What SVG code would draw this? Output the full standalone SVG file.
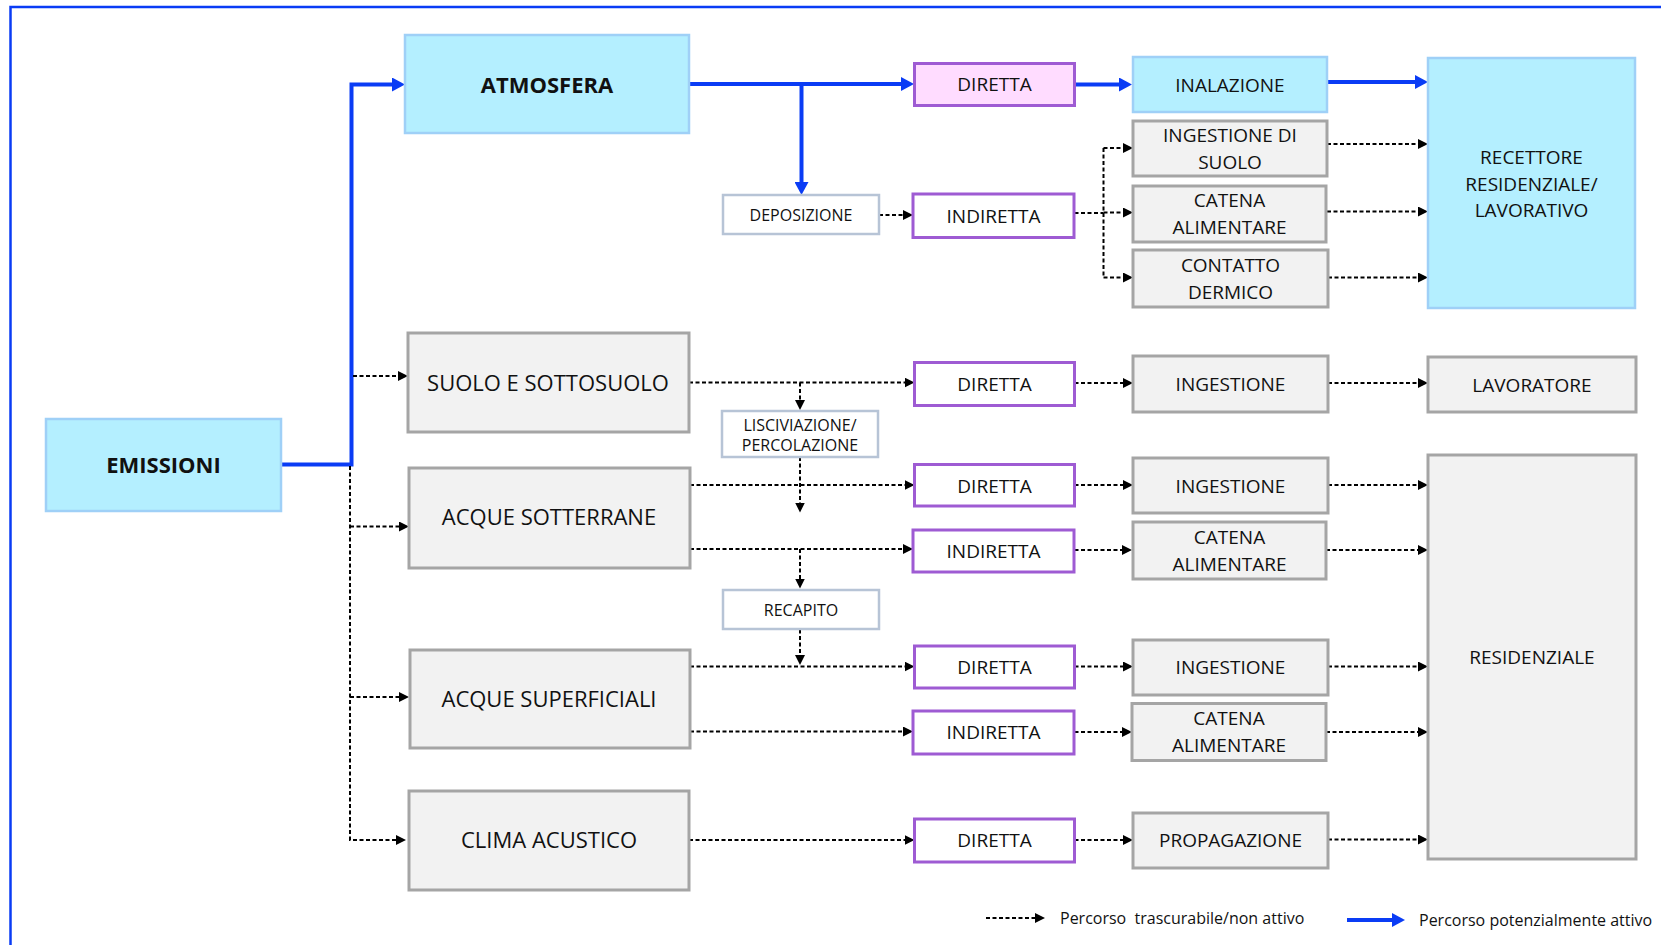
<svg xmlns="http://www.w3.org/2000/svg" width="1661" height="945" viewBox="0 0 1661 945">
<style>
text{font-family:"Open Sans","Noto Sans","Liberation Sans",sans-serif;fill:#111;text-anchor:middle}
.b{font-weight:bold;font-size:22px}
.l{font-size:22px}
.m{font-size:19px}
.s{font-size:16px}
.lg{font-size:16px;text-anchor:start}
.env{fill:#b4efff;stroke:#9fd0f7;stroke-width:2.5}
.gray{fill:#f2f2f2;stroke:#a5a5a5;stroke-width:3}
.path{fill:#fff;stroke:#9e5bd3;stroke-width:3}
.pink{fill:#ffdcff;stroke:#9e5bd3;stroke-width:3}
.proc{fill:#fff;stroke:#b7c4d6;stroke-width:2.5}
.blue{fill:none;stroke:#0a3cf5;stroke-width:4;marker-end:url(#ab)}
.blueL{fill:none;stroke:#0a3cf5;stroke-width:4}
.dash{fill:none;stroke:#000;stroke-width:2;stroke-dasharray:4 2.5;marker-end:url(#ad)}
.dashL{fill:none;stroke:#000;stroke-width:2;stroke-dasharray:4 2.5}
</style>
<defs>
<marker id="ab" markerUnits="userSpaceOnUse" markerWidth="13" markerHeight="14" viewBox="0 0 13 14" refX="5" refY="7" orient="auto"><path d="M0,0 L13,7 L0,14 z" fill="#0a3cf5"/></marker>
<marker id="ad" markerUnits="userSpaceOnUse" markerWidth="10" markerHeight="10" viewBox="0 0 10 10" refX="4" refY="5" orient="auto"><path d="M0,0 L10,5 L0,10 z" fill="#000"/></marker>
</defs>
<rect x="0" y="0" width="1661" height="945" fill="#fff"/>
<rect x="10.5" y="7" width="1700" height="1000" fill="none" stroke="#0a3cf5" stroke-width="2.5"/>

<g id="connectors">
<path class="blue" d="M281,464.5 H351.5 V84.5 H397"/>
<path class="blue" d="M689,84 H906"/>
<path class="blue" d="M801.5,84 V187"/>
<path class="blue" d="M1075,84.5 H1124"/>
<path class="blue" d="M1328,82 H1420"/>

<path class="dash" d="M350,466 V840 H400"/>
<path class="dash" d="M353,376 H402"/>
<path class="dash" d="M350,526.5 H403"/>
<path class="dash" d="M350,697 H403"/>

<path class="dash" d="M879,215 H907"/>
<path class="dashL" d="M1074.5,213 H1103.5"/>
<path class="dashL" d="M1103.5,148 V277.5"/>
<path class="dash" d="M1103.5,148 H1127"/>
<path class="dash" d="M1103.5,212.5 H1127"/>
<path class="dash" d="M1103.5,277.5 H1127"/>
<path class="dash" d="M1327,144 H1422"/>
<path class="dash" d="M1327,211.5 H1422"/>
<path class="dash" d="M1328,277.5 H1422"/>

<path class="dash" d="M689,382.5 H908.5"/>
<path class="dash" d="M800,382.5 V404"/>
<path class="dash" d="M800,457 V506.5"/>
<path class="dash" d="M690,485 H908.5"/>
<path class="dash" d="M690,549 H907"/>
<path class="dash" d="M800,549 V582.5"/>
<path class="dash" d="M800,629.5 V659"/>
<path class="dash" d="M690,666.5 H908.5"/>
<path class="dash" d="M690,731.5 H907"/>
<path class="dash" d="M689,840 H908.5"/>

<path class="dash" d="M1074.5,383 H1127"/>
<path class="dash" d="M1074.5,485 H1127"/>
<path class="dash" d="M1074.5,550 H1126"/>
<path class="dash" d="M1074.5,666.5 H1127"/>
<path class="dash" d="M1074.5,732 H1126"/>
<path class="dash" d="M1074.5,840 H1127"/>

<path class="dash" d="M1328,383 H1422"/>
<path class="dash" d="M1328,485 H1422"/>
<path class="dash" d="M1326,550 H1422"/>
<path class="dash" d="M1328,666.5 H1422"/>
<path class="dash" d="M1326,732 H1422"/>
<path class="dash" d="M1328,839.5 H1422"/>
</g>

<g id="emissioni"><rect class="env" x="46" y="419" width="235" height="92"/><text class="b" x="163.5" y="473">EMISSIONI</text></g>
<g id="atmosfera"><rect class="env" x="405" y="35" width="284" height="98"/><text class="b" x="547" y="93">ATMOSFERA</text></g>
<g id="suolo"><rect class="gray" x="408" y="333" width="281" height="99"/><text class="l" x="548" y="391">SUOLO E SOTTOSUOLO</text></g>
<g id="acque-sotterrane"><rect class="gray" x="409" y="468" width="281" height="100"/><text class="l" x="549" y="525">ACQUE SOTTERRANE</text></g>
<g id="acque-superficiali"><rect class="gray" x="410" y="650" width="280" height="98"/><text class="l" x="549" y="707">ACQUE SUPERFICIALI</text></g>
<g id="clima-acustico"><rect class="gray" x="409" y="791" width="280" height="99"/><text class="l" x="549" y="848">CLIMA ACUSTICO</text></g>

<g id="deposizione"><rect class="proc" x="723" y="195" width="156" height="39"/><text class="s" x="801" y="221">DEPOSIZIONE</text></g>
<g id="lisciviazione"><rect class="proc" x="722" y="411" width="156" height="46"/><text class="s" x="800" y="430.5">LISCIVIAZIONE/</text><text class="s" x="800" y="451">PERCOLAZIONE</text></g>
<g id="recapito"><rect class="proc" x="723" y="590" width="156" height="39"/><text class="s" x="801" y="616">RECAPITO</text></g>

<g id="diretta-1"><rect class="pink" x="914.5" y="63.5" width="160" height="42"/><text class="m" x="994.5" y="91">DIRETTA</text></g>
<g id="indiretta-1"><rect class="path" x="913" y="194" width="161" height="43.5"/><text class="m" x="993.5" y="223">INDIRETTA</text></g>
<g id="diretta-2"><rect class="path" x="914.5" y="362.5" width="160" height="43"/><text class="m" x="994.5" y="391">DIRETTA</text></g>
<g id="diretta-3"><rect class="path" x="914.5" y="464.5" width="160" height="41.5"/><text class="m" x="994.5" y="493">DIRETTA</text></g>
<g id="indiretta-2"><rect class="path" x="913" y="530" width="161" height="42"/><text class="m" x="993.5" y="557.5">INDIRETTA</text></g>
<g id="diretta-4"><rect class="path" x="914.5" y="646" width="160" height="42"/><text class="m" x="994.5" y="673.5">DIRETTA</text></g>
<g id="indiretta-3"><rect class="path" x="913" y="711" width="161" height="43"/><text class="m" x="993.5" y="738.5">INDIRETTA</text></g>
<g id="diretta-5"><rect class="path" x="914.5" y="819" width="160" height="43"/><text class="m" x="994.5" y="847">DIRETTA</text></g>

<g id="inalazione"><rect class="env" x="1133" y="57" width="194" height="55"/><text class="m" x="1230" y="92">INALAZIONE</text></g>
<g id="ingestione-suolo"><rect class="gray" x="1133" y="121" width="194" height="55"/><text class="m" x="1230" y="142">INGESTIONE DI</text><text class="m" x="1230" y="168.5">SUOLO</text></g>
<g id="catena-1"><rect class="gray" x="1133" y="186" width="193" height="56"/><text class="m" x="1229.5" y="207">CATENA</text><text class="m" x="1229.5" y="234">ALIMENTARE</text></g>
<g id="contatto"><rect class="gray" x="1133" y="250" width="195" height="57"/><text class="m" x="1230.5" y="272">CONTATTO</text><text class="m" x="1230.5" y="298.5">DERMICO</text></g>
<g id="ingestione-1"><rect class="gray" x="1133" y="356" width="195" height="56"/><text class="m" x="1230.5" y="391">INGESTIONE</text></g>
<g id="ingestione-2"><rect class="gray" x="1133" y="458" width="195" height="55"/><text class="m" x="1230.5" y="493">INGESTIONE</text></g>
<g id="catena-2"><rect class="gray" x="1133" y="522" width="193" height="57"/><text class="m" x="1229.5" y="543.5">CATENA</text><text class="m" x="1229.5" y="570.5">ALIMENTARE</text></g>
<g id="ingestione-3"><rect class="gray" x="1133" y="640" width="195" height="55"/><text class="m" x="1230.5" y="674">INGESTIONE</text></g>
<g id="catena-3"><rect class="gray" x="1132" y="703.5" width="194" height="57"/><text class="m" x="1229" y="725">CATENA</text><text class="m" x="1229" y="752">ALIMENTARE</text></g>
<g id="propagazione"><rect class="gray" x="1133" y="813" width="195" height="55"/><text class="m" x="1230.5" y="847">PROPAGAZIONE</text></g>

<g id="recettore"><rect class="env" x="1428" y="58" width="207" height="250"/><text class="m" x="1531.5" y="163.5">RECETTORE</text><text class="m" x="1531.5" y="190.5">RESIDENZIALE/</text><text class="m" x="1531.5" y="217">LAVORATIVO</text></g>
<g id="lavoratore"><rect class="gray" x="1428" y="357" width="208" height="55"/><text class="m" x="1532" y="392">LAVORATORE</text></g>
<g id="residenziale"><rect class="gray" x="1428" y="455" width="208" height="404"/><text class="m" x="1532" y="663.5">RESIDENZIALE</text></g>

<g id="legend">
<path class="dash" d="M986,918 H1039"/>
<text class="lg" x="1060" y="924" xml:space="preserve">Percorso  trascurabile/non attivo</text>
<path class="blue" d="M1347,920 H1397"/>
<text class="lg" x="1419" y="926">Percorso potenzialmente attivo</text>
</g>
</svg>
